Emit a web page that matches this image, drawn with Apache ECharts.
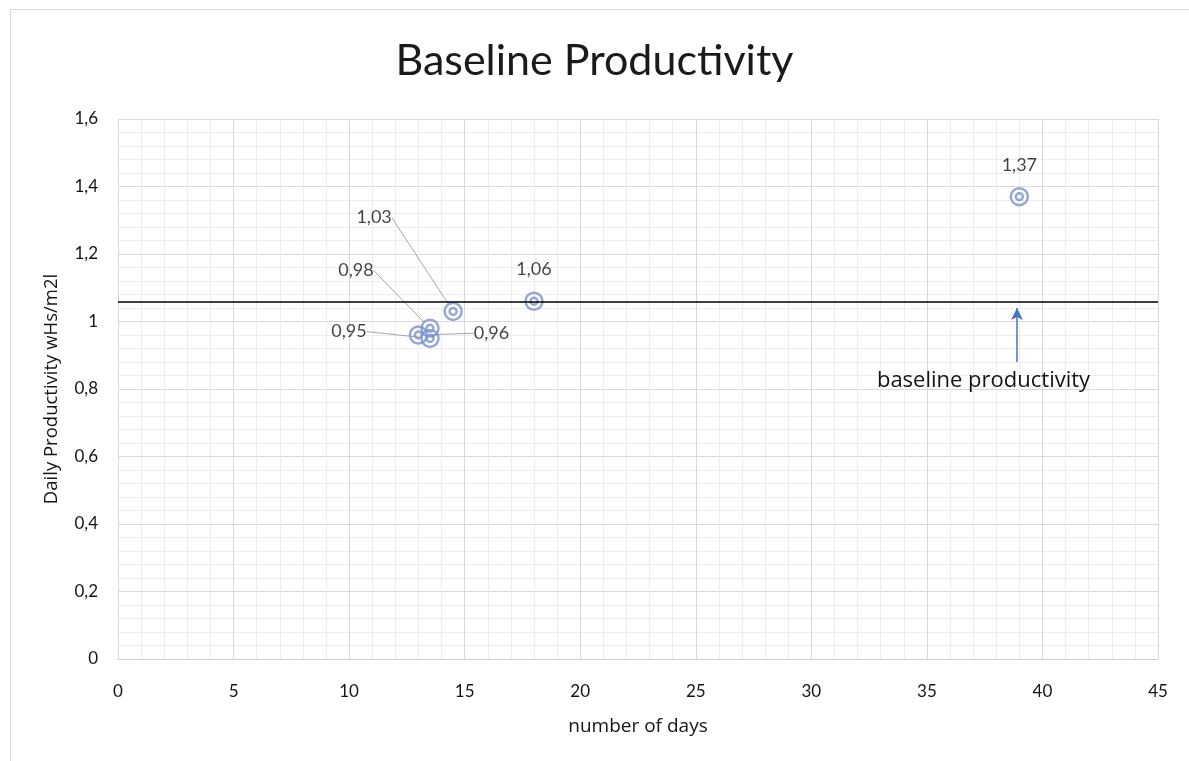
<!DOCTYPE html>
<html>
<head>
<meta charset="utf-8">
<script src="https://cdn.jsdelivr.net/npm/echarts@6/dist/echarts.min.js"></script>
<style>html,body{margin:0;padding:0;background:#fff}#chart{width:1189px;height:761px}</style>
</head>
<body>
<div id="chart"></div>
<script>
// ---- data ----
const days = [39, 18, 14.5, 13.5, 13.5, 13];
const productivity = [1.37, 1.06, 1.03, 0.98, 0.95, 0.96];
const baselineValue = 1.06;
const arrowX = 38.9;
const arrowFrom = 0.88;
const arrowTo = 1.04;
const annotationText = 'baseline productivity';
const xTicks = [0, 5, 10, 15, 20, 25, 30, 35, 40, 45];
const yTicks = [0, 0.2, 0.4, 0.6, 0.8, 1, 1.2, 1.4, 1.6];

// label offsets (style only; relative to the default "top" label)
const labelOffsets = [
  null, null,
  {dx: -79, dy: -62},
  {dx: -74, dy: -26},
  {dx: -81, dy: 25},
  {dx: 73, dy: 30}
];

const points = days.map((d, i) => ({
  value: [d, productivity[i]],
  labelLine: {show: !!labelOffsets[i]}
}));
const plainPoints = days.map((d, i) => [d, productivity[i]]);
const fmt = v => String(v).replace('.', ',');
const font = 'Lato, "Open Sans", sans-serif';
const nameFont = '"Open Sans", sans-serif';
const ring = '#7b93cc';
const txt = '#141414';

const chart = echarts.init(document.getElementById('chart'));
chart.setOption({
  animation: false,
  backgroundColor: '#fff',
  graphic: [{
    type: 'rect', left: 8, top: 7,
    shape: {width: 1300, height: 900},
    style: {fill: 'none', stroke: '#d9d9d9', lineWidth: 1}
  }],
  title: {
    text: 'Baseline Productivity', left: 'center', top: 35,
    textStyle: {fontFamily: font, fontSize: 43, fontWeight: 'normal', color: '#1a1a1a'}
  },
  grid: {left: 118, right: 31, top: 119, bottom: 102},
  xAxis: {
    type: 'value', min: xTicks[0], max: xTicks[xTicks.length - 1], interval: 5,
    name: 'number of days', nameLocation: 'middle', nameGap: 58,
    nameTextStyle: {fontFamily: nameFont, fontSize: 19, color: txt},
    axisLine: {show: true, lineStyle: {color: '#d0d0d0'}},
    axisTick: {show: false},
    axisLabel: {margin: 24, fontFamily: font, fontSize: 17, color: txt},
    splitLine: {show: true, lineStyle: {color: '#d9d9d9'}},
    minorTick: {show: false, splitNumber: 5},
    minorSplitLine: {show: true, lineStyle: {color: '#ededed'}}
  },
  yAxis: {
    type: 'value', min: yTicks[0], max: yTicks[yTicks.length - 1], interval: 0.2,
    name: 'Daily Productivity wHs/m2l', nameLocation: 'middle', nameGap: 57,
    nameTextStyle: {fontFamily: nameFont, fontSize: 18.5, color: txt},
    axisLine: {show: false},
    axisTick: {show: false},
    axisLabel: {margin: 20, fontFamily: font, fontSize: 17, color: txt, formatter: v => fmt(+v.toFixed(1))},
    splitLine: {show: true, lineStyle: {color: '#d9d9d9'}},
    minorTick: {show: false, splitNumber: 5},
    minorSplitLine: {show: true, lineStyle: {color: '#ededed'}}
  },
  series: [
    {
      type: 'scatter', data: points, symbol: 'circle', symbolSize: 17, z: 3,
      itemStyle: {color: 'rgba(255,255,255,0)', borderColor: ring, borderWidth: 2.5},
      label: {
        show: true, position: 'top', distance: 13,
        formatter: p => fmt(p.value[1]),
        fontFamily: font, fontSize: 18, color: txt
      },
      labelLine: {show: true, lineStyle: {color: '#a6a6a6', width: 1}},
      labelLayout: p => {
        const o = labelOffsets[p.dataIndex];
        return o ? {dx: o.dx, dy: o.dy} : {};
      },
      markLine: {
        silent: true, symbol: ['none', 'none'],
        lineStyle: {color: '#000', width: 1.5, type: 'solid'},
        label: {show: false},
        data: [{yAxis: baselineValue}]
      }
    },
    {
      type: 'scatter', data: plainPoints, symbol: 'circle', symbolSize: 7, z: 4,
      itemStyle: {color: 'rgba(255,255,255,0)', borderColor: ring, borderWidth: 2.5},
      markLine: {
        silent: true, symbol: ['none', 'arrow'], symbolSize: [9, 12],
        lineStyle: {color: '#4472c4', width: 1.5, type: 'solid'},
        label: {show: false},
        data: [[{coord: [arrowX, arrowFrom]}, {coord: [arrowX, arrowTo]}]]
      },
      markPoint: {
        silent: true, symbol: 'circle', symbolSize: 0,
        label: {show: true, position: 'bottom', distance: 8, formatter: annotationText,
          fontFamily: nameFont, fontSize: 22, color: txt},
        data: [{coord: [37.45, arrowFrom]}]
      }
    }
  ]
});
</script>
</body>
</html>
